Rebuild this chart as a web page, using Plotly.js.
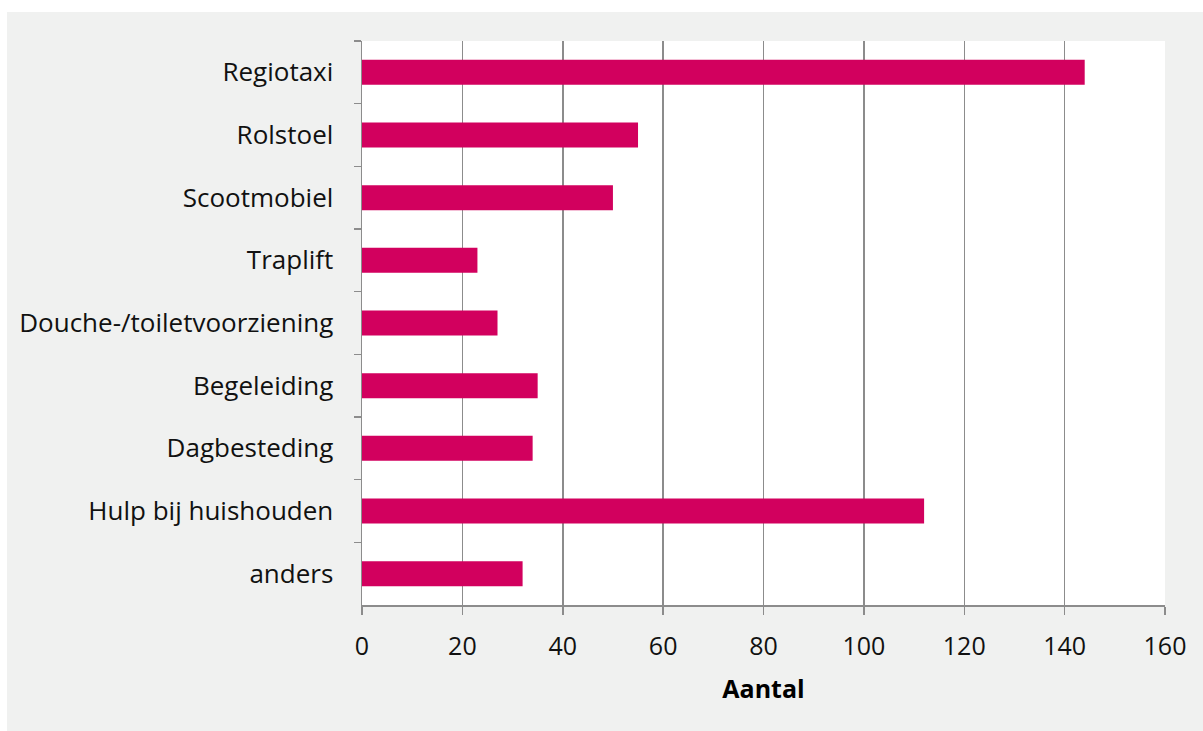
<!DOCTYPE html>
<html>
<head>
<meta charset="utf-8">
<script src="https://cdn.plot.ly/plotly-3.0.1.min.js"></script>
<style>
html,body{margin:0;padding:0;background:#ffffff;width:1203px;height:731px;overflow:hidden;}
#chart{position:absolute;left:7px;top:12px;width:1196px;height:719px;}
</style>
</head>
<body>
<div id="chart"></div>
<script>
const categories = ["Regiotaxi","Rolstoel","Scootmobiel","Traplift","Douche-/toiletvoorziening","Begeleiding","Dagbesteding","Hulp bij huishouden","anders"];
const values = [144, 55, 50, 23, 27, 35, 34, 112, 32];
const xTicks = [0,20,40,60,80,100,120,140,160];

const trace = {
  type: 'bar',
  orientation: 'h',
  y: categories,
  x: values,
  marker: {color: '#d2005e', line: {width: 0}},
  hoverinfo: 'x+y'
};

const layout = {
  width: 1196, height: 719,
  paper_bgcolor: '#f0f1f0',
  plot_bgcolor: '#ffffff',
  margin: {l: 355, r: 38, t: 29, b: 126},
  bargap: 0.6,
  showlegend: false,
  font: {family: 'Open Sans, sans-serif', size: 25, color: '#111111'},
  xaxis: {
    range: [0, 160],
    tickvals: xTicks,
    ticktext: xTicks.map(String),
    tickfont: {size: 25},
    showgrid: true, gridcolor: '#8c8c8c', gridwidth: 1.5,
    zeroline: false,
    showline: true, linecolor: '#8c8c8c', linewidth: 1.5,
    ticks: 'outside', ticklen: 8, tickwidth: 1.5, tickcolor: '#8c8c8c',
    ticklabelstandoff: 10,
    title: {text: '<b>Aantal</b>', font: {size: 25, color: '#000000'}, standoff: 20},
    fixedrange: true
  },
  yaxis: {
    type: 'category',
    autorange: 'reversed',
    tickfont: {size: 26},
    showgrid: false,
    zeroline: false,
    showline: true, linecolor: '#8c8c8c', linewidth: 1.5,
    ticks: 'outside', ticklen: 7, tickwidth: 1.5, tickcolor: '#8c8c8c',
    tickson: 'boundaries',
    ticklabelstandoff: 22,
    fixedrange: true
  }
};

Plotly.newPlot('chart', [trace], layout, {displayModeBar: false, staticPlot: true});
</script>
</body>
</html>
